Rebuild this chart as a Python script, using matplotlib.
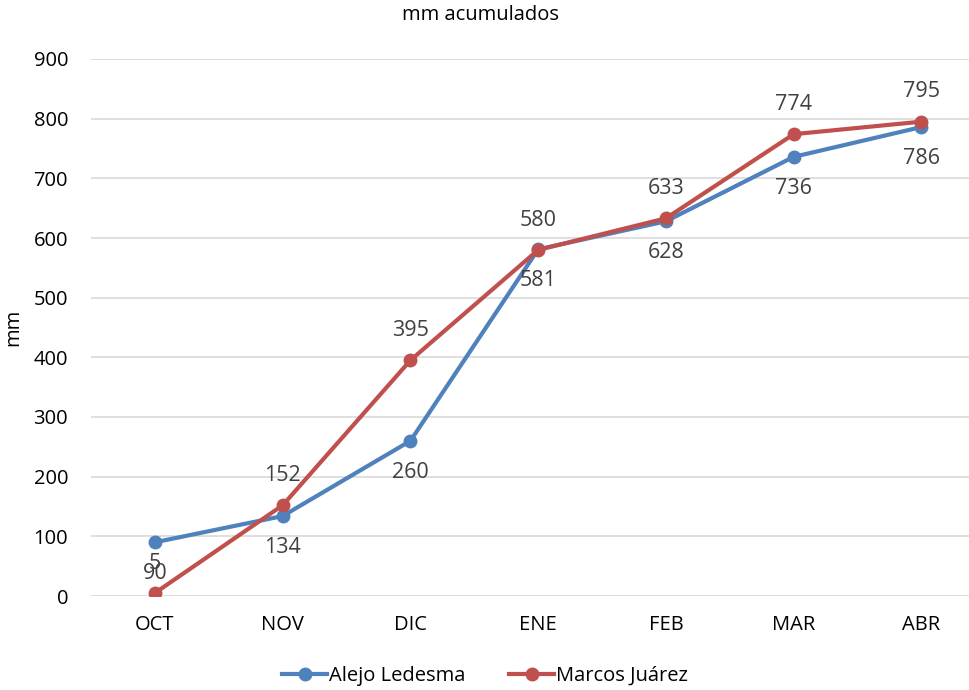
import matplotlib
matplotlib.use("Agg")
import matplotlib.pyplot as plt

months = ["OCT", "NOV", "DIC", "ENE", "FEB", "MAR", "ABR"]
alejo = [90, 134, 260, 581, 628, 736, 786]
marcos = [5, 152, 395, 580, 633, 774, 795]
yticks = [0, 100, 200, 300, 400, 500, 600, 700, 800, 900]

plt.rcParams['font.family'] = ['Open Sans', 'DejaVu Sans']

W, H = 970, 690
fig = plt.figure(figsize=(W/100, H/100), dpi=100)
left, right, top, bottom = 91, 970, 59, 596
ax = fig.add_axes([left/W, 1-bottom/H, (right-left)/W, (bottom-top)/H])

blue = "#4F81BD"
red = "#C0504D"
x = list(range(len(months)))
ax.plot(x, alejo, color=blue, lw=3, marker='o', ms=9, label="Alejo Ledesma", zorder=3)
ax.plot(x, marcos, color=red, lw=3, marker='o', ms=9, label="Marcos Juárez", zorder=4)

for xi, v in zip(x, alejo):
    ax.annotate(str(v), (xi, v), xytext=(0, -22.5), textcoords='offset points',
                ha='center', va='center', fontsize=15.5, color="#404040")
for xi, v in zip(x, marcos):
    ax.annotate(str(v), (xi, v), xytext=(0, 21.5), textcoords='offset points',
                ha='center', va='center', fontsize=15.5, color="#404040")

ax.set_ylim(0, 900)
ax.set_xlim(-0.5, 6.38)
ax.set_yticks(yticks)
ax.set_xticks(x)
ax.set_xticklabels(months)
ax.grid(axis='y', color="#D9D9D9", lw=1.2)
ax.set_axisbelow(True)
for s in ax.spines.values():
    s.set_visible(False)
ax.tick_params(axis='both', length=0, labelsize=14.5, colors="#000000")
ax.tick_params(axis='y', pad=16.5)
ax.tick_params(axis='x', pad=14)

fig.text(481/W, 1-15/H, "mm acumulados", ha='center', va='center', fontsize=14.5)
fig.text(13/W, 1-327/H, "mm", ha='center', va='center', rotation=90, fontsize=14.5)

fig.legend(loc='center', bbox_to_anchor=(485/W, 1-676/H), ncol=2, frameon=False,
           fontsize=14.5, handlelength=2.2, columnspacing=2.2, handletextpad=0.1,
           borderaxespad=0)

fig.savefig("out.png", dpi=100)
